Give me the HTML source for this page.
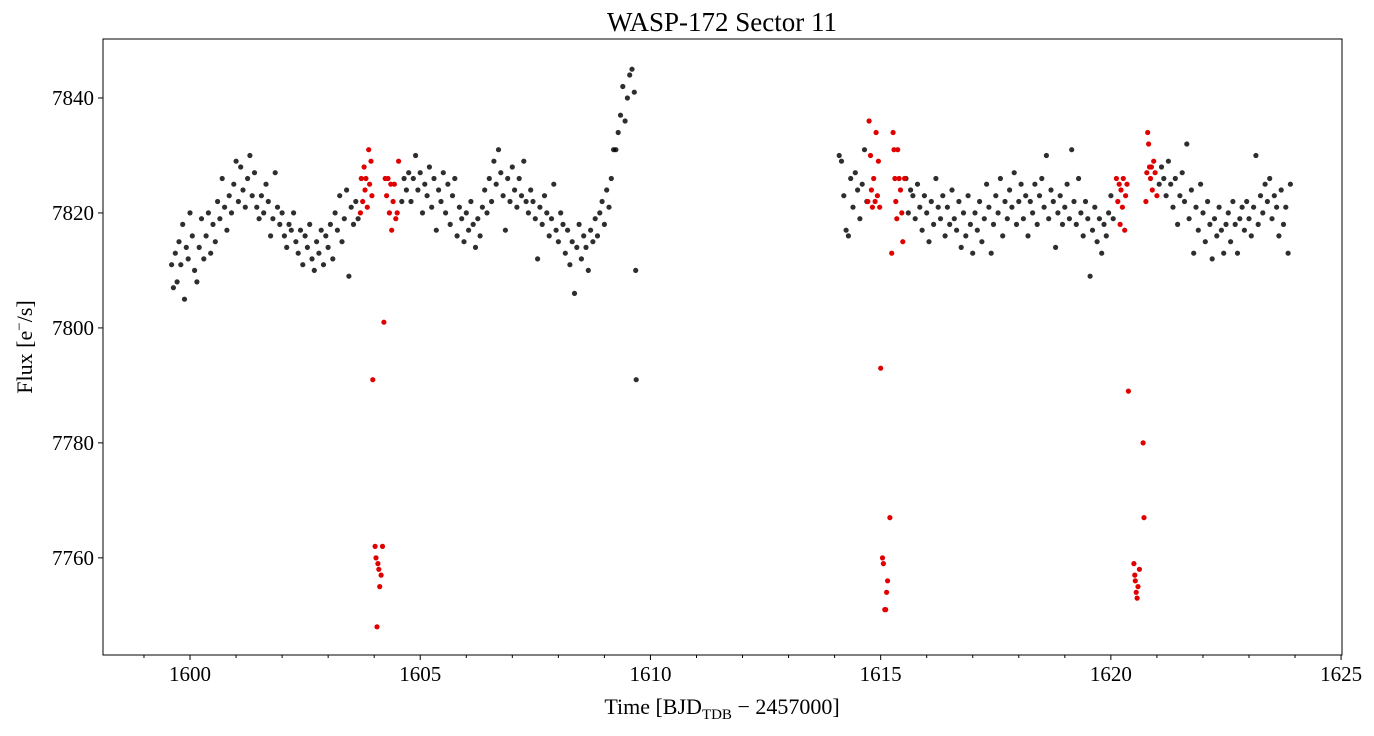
<!DOCTYPE html>
<html><head><meta charset="utf-8"><style>
html,body{margin:0;padding:0;background:#fff;}
svg text{font-family:"Liberation Serif","DejaVu Serif",serif;fill:#000;}
</style></head><body>
<svg id="chart" width="1374" height="731" viewBox="0 0 1374 731" xmlns="http://www.w3.org/2000/svg">
<text x="722" y="31" font-size="27" text-anchor="middle">WASP-172 Sector 11</text>
<g id="marks"></g>
<g id="axes"></g>
<rect x="103" y="39" width="1239" height="616" fill="none" stroke="#000" stroke-width="1"/>
<text x="722" y="714" font-size="22" text-anchor="middle">Time [BJD<tspan font-size="15" dy="5">TDB</tspan><tspan dy="-5"> − 2457000]</tspan></text>
<text transform="translate(32,347) rotate(-90)" font-size="22" text-anchor="middle">Flux [e<tspan font-size="15" dy="-8">−</tspan><tspan dy="8">/s]</tspan></text>
</svg>
<script>
const blackT=[1599.60,1599.64,1599.68,1599.72,1599.76,1599.80,1599.84,1599.88,1599.92,1599.96,1600.00,1600.05,1600.10,1600.15,1600.20,1600.25,1600.30,1600.35,1600.40,1600.45,1600.50,1600.55,1600.60,1600.65,1600.70,1600.75,1600.80,1600.85,1600.90,1600.95,1601.00,1601.05,1601.10,1601.15,1601.20,1601.25,1601.30,1601.35,1601.40,1601.45,1601.50,1601.55,1601.60,1601.65,1601.70,1601.75,1601.80,1601.85,1601.90,1601.95,1602.00,1602.05,1602.10,1602.15,1602.20,1602.25,1602.30,1602.35,1602.40,1602.45,1602.50,1602.55,1602.60,1602.65,1602.70,1602.75,1602.80,1602.85,1602.90,1602.95,1603.00,1603.05,1603.10,1603.15,1603.20,1603.25,1603.30,1603.35,1603.40,1603.45,1603.50,1603.55,1603.60,1603.65,
1604.60,1604.65,1604.70,1604.75,1604.80,1604.85,1604.90,1604.95,1605.00,1605.05,1605.10,1605.15,1605.20,1605.25,1605.30,1605.35,1605.40,1605.45,1605.50,1605.55,1605.60,1605.65,1605.70,1605.75,1605.80,1605.85,1605.90,1605.95,1606.00,1606.05,1606.10,1606.15,1606.20,1606.25,1606.30,1606.35,1606.40,1606.45,1606.50,1606.55,1606.60,1606.65,1606.70,1606.75,1606.80,1606.85,1606.90,1606.95,1607.00,1607.05,1607.10,1607.15,1607.20,1607.25,1607.30,1607.35,1607.40,1607.45,1607.50,1607.55,1607.60,1607.65,1607.70,1607.75,1607.80,1607.85,1607.90,1607.95,1608.00,1608.05,1608.10,1608.15,1608.20,1608.25,1608.30,1608.35,1608.40,1608.45,1608.50,1608.55,1608.60,1608.65,1608.70,1608.75,1608.80,1608.85,1608.90,1608.95,1609.00,1609.05,1609.10,1609.15,1609.20,1609.25,1609.30,1609.35,1609.40,1609.45,1609.50,1609.55,1609.60,1609.65,1609.68,1609.69,
1614.10,1614.15,1614.20,1614.25,1614.30,1614.35,1614.40,1614.45,1614.50,1614.55,1614.60,1614.65,1614.70,
1615.55,1615.60,1615.65,1615.70,1615.75,1615.80,1615.85,1615.90,1615.95,1616.00,1616.05,1616.10,1616.15,1616.20,1616.25,1616.30,1616.35,1616.40,1616.45,1616.50,1616.55,1616.60,1616.65,1616.70,1616.75,1616.80,1616.85,1616.90,1616.95,1617.00,1617.05,1617.10,1617.15,1617.20,1617.25,1617.30,1617.35,1617.40,1617.45,1617.50,1617.55,1617.60,1617.65,1617.70,1617.75,1617.80,1617.85,1617.90,1617.95,1618.00,1618.05,1618.10,1618.15,1618.20,1618.25,1618.30,1618.35,1618.40,1618.45,1618.50,1618.55,1618.60,1618.65,1618.70,1618.75,1618.80,1618.85,1618.90,1618.95,1619.00,1619.05,1619.10,1619.15,1619.20,1619.25,1619.30,1619.35,1619.40,1619.45,1619.50,1619.55,1619.60,1619.65,1619.70,1619.75,1619.80,1619.85,1619.90,1619.95,1620.00,1620.05,
1621.05,1621.10,1621.15,1621.20,1621.25,1621.30,1621.35,1621.40,1621.45,1621.50,1621.55,1621.60,1621.65,1621.70,1621.75,1621.80,1621.85,1621.90,1621.95,1622.00,1622.05,1622.10,1622.15,1622.20,1622.25,1622.30,1622.35,1622.40,1622.45,1622.50,1622.55,1622.60,1622.65,1622.70,1622.75,1622.80,1622.85,1622.90,1622.95,1623.00,1623.05,1623.10,1623.15,1623.20,1623.25,1623.30,1623.35,1623.40,1623.45,1623.50,1623.55,1623.60,1623.65,1623.70,1623.75,1623.80,1623.85,1623.90];
const blackF=[7811,7807,7813,7808,7815,7811,7818,7805,7814,7812,7820,7816,7810,7808,7814,7819,7812,7816,7820,7813,7818,7815,7822,7819,7826,7821,7817,7823,7820,7825,7829,7822,7828,7824,7821,7826,7830,7823,7827,7821,7819,7823,7820,7825,7822,7816,7819,7827,7821,7818,7820,7816,7814,7818,7817,7820,7815,7813,7817,7811,7816,7814,7818,7812,7810,7815,7813,7817,7811,7816,7814,7818,7812,7820,7817,7823,7815,7819,7824,7809,7821,7818,7822,7819,
7822,7826,7824,7827,7822,7826,7830,7824,7827,7820,7825,7823,7828,7821,7826,7817,7824,7822,7827,7820,7825,7818,7823,7826,7816,7821,7819,7815,7820,7817,7822,7818,7814,7819,7816,7821,7824,7820,7826,7822,7829,7825,7831,7827,7823,7817,7826,7822,7828,7824,7821,7826,7823,7829,7822,7820,7824,7822,7819,7812,7821,7818,7823,7820,7816,7819,7825,7817,7815,7820,7818,7813,7817,7811,7815,7806,7814,7818,7812,7816,7814,7810,7817,7815,7819,7816,7820,7822,7818,7824,7821,7826,7831,7831,7834,7837,7842,7836,7840,7844,7845,7841,7810,7791,
7830,7829,7823,7817,7816,7826,7821,7827,7824,7819,7825,7831,7822,
7826,7820,7824,7823,7819,7825,7821,7817,7823,7820,7815,7822,7818,7826,7821,7819,7823,7816,7821,7818,7824,7819,7817,7822,7814,7820,7816,7823,7818,7813,7820,7817,7822,7815,7819,7825,7821,7813,7818,7823,7820,7826,7816,7822,7819,7824,7821,7827,7818,7822,7825,7819,7823,7816,7822,7820,7825,7818,7823,7826,7821,7830,7819,7824,7822,7814,7820,7823,7818,7821,7825,7819,7831,7822,7818,7826,7820,7816,7822,7819,7809,7817,7821,7815,7819,7813,7818,7816,7820,7823,7819,
7825,7828,7826,7823,7829,7825,7821,7826,7818,7823,7827,7822,7832,7819,7824,7813,7821,7817,7825,7820,7815,7822,7818,7812,7819,7816,7821,7817,7813,7818,7820,7815,7822,7818,7813,7819,7821,7817,7822,7819,7816,7821,7830,7818,7823,7820,7825,7822,7826,7819,7823,7821,7816,7824,7818,7821,7813,7825];
const redT=[1603.70,1603.72,1603.75,1603.78,1603.80,1603.82,1603.85,1603.88,1603.90,1603.93,1603.95,1603.97,1604.02,1604.04,1604.06,1604.08,1604.10,1604.12,1604.15,1604.18,1604.21,1604.24,1604.27,1604.30,1604.33,1604.36,1604.38,1604.41,1604.44,1604.47,1604.50,1604.53,
1614.72,1614.75,1614.78,1614.80,1614.82,1614.85,1614.88,1614.90,1614.93,1614.95,1614.98,1615.00,1615.04,1615.06,1615.09,1615.11,1615.13,1615.15,1615.20,1615.24,1615.27,1615.29,1615.31,1615.33,1615.35,1615.37,1615.40,1615.43,1615.46,1615.48,1615.52,
1620.12,1620.15,1620.18,1620.20,1620.22,1620.25,1620.27,1620.30,1620.32,1620.35,1620.38,1620.50,1620.52,1620.53,1620.55,1620.57,1620.59,1620.62,1620.70,1620.72,1620.76,1620.78,1620.80,1620.82,1620.84,1620.86,1620.88,1620.90,1620.93,1620.96,1621.00];
const redF=[7820,7826,7822,7828,7824,7826,7821,7831,7825,7829,7823,7791,7762,7760,7748,7759,7758,7755,7757,7762,7801,7826,7823,7826,7820,7825,7817,7822,7825,7819,7820,7829,
7822,7836,7830,7824,7821,7826,7822,7834,7823,7829,7821,7793,7760,7759,7751,7751,7754,7756,7767,7813,7834,7831,7826,7822,7819,7831,7826,7824,7820,7815,7826,
7826,7822,7825,7818,7824,7821,7826,7817,7823,7825,7789,7759,7757,7756,7754,7753,7755,7758,7780,7767,7822,7827,7834,7832,7828,7826,7828,7824,7829,7827,7823];
const xTicks=[1600,1605,1610,1615,1620,1625];
const yTicks=[7760,7780,7800,7820,7840];

const X0=103,X1=1342,Y0=39,Y1=655;
const xMin=1598.11,xMax=1625.02,yMin=7743.1,yMax=7850.26;
const sx=v=>X0+(v-xMin)/(xMax-xMin)*(X1-X0);
const sy=v=>Y1-(v-yMin)/(yMax-yMin)*(Y1-Y0);
const NS='http://www.w3.org/2000/svg';
const marks=document.getElementById('marks');
const axes=document.getElementById('axes');
function dot(t,f,color,name){
  const c=document.createElementNS(NS,'circle');
  c.setAttribute('cx',sx(t).toFixed(1));
  c.setAttribute('cy',sy(f).toFixed(1));
  c.setAttribute('r','2.6');
  c.setAttribute('fill',color);
  
  
  marks.appendChild(c);
}
for(let i=0;i<blackT.length;i++){dot(blackT[i],blackF[i],'rgba(0,0,0,0.82)','flux-point');}
for(let i=0;i<redT.length;i++){dot(redT[i],redF[i],'#e00000','transit-point');}
function line(x1,y1,x2,y2,name){
  const l=document.createElementNS(NS,'line');
  l.setAttribute('x1',x1);l.setAttribute('y1',y1);l.setAttribute('x2',x2);l.setAttribute('y2',y2);
  l.setAttribute('stroke','#000');l.setAttribute('stroke-width','1');
  
  
  axes.appendChild(l);
}
function label(x,y,s,anchor,name){
  const t=document.createElementNS(NS,'text');
  t.setAttribute('x',x);t.setAttribute('y',y);t.setAttribute('font-size','21');
  t.setAttribute('text-anchor',anchor);t.textContent=s;
  
  
  axes.appendChild(t);
}
for(const v of xTicks){const x=sx(v);line(x,Y1,x,Y1+5,'x-tick');label(x,Y1+26,String(v),'middle','x-tick-label');}
for(let v=1599;v<=1624;v++){if(v%5!==0){const x=sx(v);line(x,Y1,x,Y1+3,'x-minor-tick');}}
for(const v of yTicks){const y=sy(v);line(X0-5,y,X0,y,'y-tick');label(X0-9,y+7,String(v),'end','y-tick-label');}
</script>
</body></html>
